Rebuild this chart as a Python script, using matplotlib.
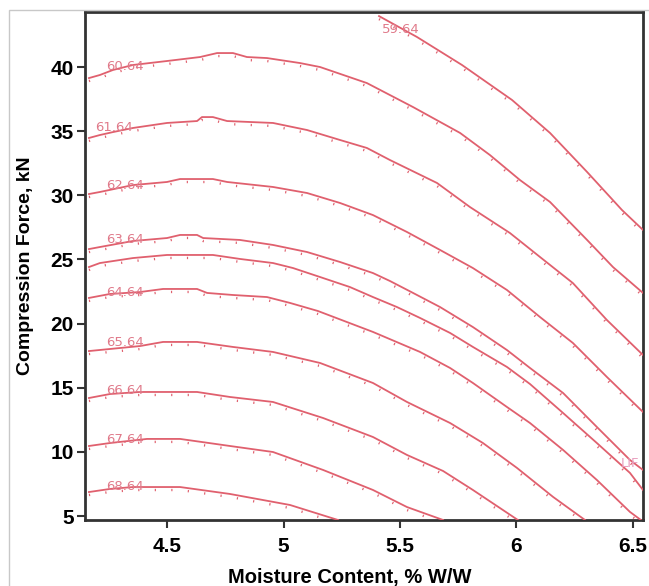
import matplotlib
matplotlib.use("Agg")
import matplotlib.pyplot as plt
import matplotlib.transforms as mtransforms
from matplotlib.patches import Rectangle

# ---- data ----
x_5964 = [5.410, 5.573, 5.766, 5.981, 6.144, 6.303, 6.453, 6.543]
y_5964 = [43.97, 42.34, 40.16, 37.43, 34.86, 31.82, 28.85, 27.30]

x_6064 = [4.165, 4.212, 4.268, 4.354, 4.500, 4.642, 4.715, 4.783, 4.843, 4.929, 5.071,
          5.157, 5.358, 5.556, 5.758, 5.886, 6.015, 6.144, 6.303, 6.414, 6.543]
y_6064 = [39.14, 39.38, 39.77, 40.16, 40.47, 40.78, 41.09, 41.09, 40.78, 40.70, 40.31,
          40.00, 38.75, 36.88, 34.86, 33.14, 31.19, 29.48, 26.52, 24.41, 22.39]

x_6164 = [4.165, 4.212, 4.268, 4.354, 4.500, 4.629, 4.650, 4.697, 4.758, 4.955, 5.101,
          5.243, 5.358, 5.457, 5.659, 5.800, 5.972, 6.101, 6.242, 6.388, 6.543]
y_6164 = [34.47, 34.70, 34.93, 35.25, 35.64, 35.79, 36.10, 36.10, 35.79, 35.64, 35.09,
          34.31, 33.69, 32.75, 30.96, 29.09, 27.06, 25.19, 23.16, 20.28, 17.55]

x_6264 = [4.165, 4.212, 4.354, 4.500, 4.556, 4.697, 4.758, 4.955, 5.101, 5.243, 5.384,
          5.530, 5.672, 5.813, 5.959, 6.101, 6.242, 6.388, 6.543]
y_6264 = [30.10, 30.26, 30.80, 31.04, 31.27, 31.27, 31.04, 30.65, 30.18, 29.40, 28.46,
          27.14, 25.74, 24.33, 22.62, 20.51, 18.49, 15.84, 13.11]

x_6364 = [4.165, 4.212, 4.354, 4.500, 4.556, 4.629, 4.655, 4.813, 4.955, 5.101, 5.243,
          5.384, 5.457, 5.556, 5.672, 5.813, 5.959, 6.058, 6.200, 6.345, 6.487, 6.543]
y_6364 = [25.81, 25.97, 26.44, 26.67, 26.91, 26.91, 26.67, 26.52, 26.13, 25.58, 24.80,
          23.94, 23.32, 22.39, 21.29, 19.73, 17.94, 16.54, 14.59, 11.94, 9.37, 8.59]

x_lif = [4.165, 4.212, 4.354, 4.500, 4.697, 4.813, 4.955, 5.041, 5.157, 5.285, 5.384,
         5.487, 5.586, 5.715, 5.813, 5.959, 6.058, 6.200, 6.345, 6.487, 6.543]
y_lif = [24.41, 24.72, 25.11, 25.35, 25.35, 25.04, 24.72, 24.33, 23.63, 22.85, 22.07,
         21.29, 20.44, 19.27, 18.18, 16.62, 15.29, 13.03, 10.69, 8.36, 7.03]

x_6464 = [4.165, 4.255, 4.384, 4.483, 4.629, 4.672, 4.783, 4.929, 5.028, 5.148, 5.384,
          5.586, 5.715, 5.813, 5.959, 6.058, 6.200, 6.345, 6.487, 6.534]
y_6464 = [22.00, 22.31, 22.46, 22.70, 22.70, 22.39, 22.23, 22.07, 21.61, 20.98, 19.35,
          17.79, 16.54, 15.37, 13.50, 12.25, 10.15, 7.81, 5.32, 4.69]

x_6564 = [4.165, 4.384, 4.483, 4.629, 4.783, 4.955, 5.157, 5.384, 5.530, 5.715, 5.856,
          6.002, 6.157, 6.294]
y_6564 = [17.86, 18.25, 18.57, 18.57, 18.18, 17.79, 16.93, 15.37, 13.89, 12.25, 10.69,
          8.75, 6.49, 4.69]

x_6664 = [4.165, 4.255, 4.384, 4.629, 4.770, 4.955, 5.170, 5.384, 5.530, 5.685, 5.813, 6.006]
y_6664 = [14.20, 14.51, 14.67, 14.67, 14.28, 13.89, 12.64, 11.16, 9.76, 8.51, 7.03, 4.69]

x_6764 = [4.165, 4.255, 4.414, 4.556, 4.770, 4.955, 5.170, 5.384, 5.530, 5.685]
y_6764 = [10.46, 10.69, 11.01, 11.01, 10.46, 9.99, 8.59, 7.03, 5.70, 4.69]

x_6864 = [4.165, 4.255, 4.354, 4.556, 4.770, 5.028, 5.234]
y_6864 = [6.87, 7.11, 7.26, 7.26, 6.72, 5.86, 4.69]

curve_x = [x_5964, x_6064, x_6164, x_6264, x_6364, x_lif, x_6464, x_6564, x_6664, x_6764, x_6864]
curve_y = [y_5964, y_6064, y_6164, y_6264, y_6364, y_lif, y_6464, y_6564, y_6664, y_6764, y_6864]

label_text = ["59.64", "60.64", "61.64", "62.64", "63.64", "64.64", "65.64", "66.64",
              "67.64", "68.64", "LIF"]
label_x = [5.504, 4.320, 4.273, 4.320, 4.320, 4.320, 4.320, 4.320, 4.320, 4.320, 6.487]
label_y = [42.96, 40.08, 35.25, 30.80, 26.59, 22.46, 18.49, 14.75, 11.00, 7.34, 9.13]

x_ticks = [4.5, 5, 5.5, 6, 6.5]
x_tick_labels = ["4.5", "5", "5.5", "6", "6.5"]
y_ticks = [5, 10, 15, 20, 25, 30, 35, 40]
y_tick_labels = ["5", "10", "15", "20", "25", "30", "35", "40"]

# ---- figure ----
plt.rcParams['font.family'] = ['Liberation Sans', 'DejaVu Sans']
fig = plt.figure(figsize=(6.49, 5.86), dpi=100)
fig.patch.set_facecolor('white')
fig.patches.append(Rectangle((9 / 649, -0.1), 1.2, 1.1 - 10 / 586,
                             transform=fig.transFigure, fill=False,
                             edgecolor='#c8c8c8', linewidth=1.0))

ax = fig.add_axes([85 / 649, 1 - 520 / 586, (643 - 85) / 649, (520 - 12) / 586])
ax.set_xlim(4.148, 6.543)
ax.set_ylim(4.69, 44.29)

line_color = '#e0606e'
dot_offset = mtransforms.offset_copy(ax.transData, fig=fig, x=0, y=-3, units='dots')
for cx, cy in zip(curve_x, curve_y):
    ax.plot(cx, cy, color=line_color, lw=1.3, solid_joinstyle='round', zorder=3)
    ax.plot(cx, cy, color='#e0606e', lw=1.7, linestyle=(0, (0.5, 6.5)),
            transform=dot_offset, zorder=2)

for t, lx, ly in zip(label_text, label_x, label_y):
    col = '#e8a0c0' if t == "LIF" else '#e07a8a'
    ax.text(lx, ly, t, color=col, fontsize=9.5, ha='center', va='center',
            family='DejaVu Sans', zorder=4)

ax.set_xticks(x_ticks)
ax.set_xticklabels(x_tick_labels)
ax.set_yticks(y_ticks)
ax.set_yticklabels(y_tick_labels)
ax.tick_params(axis='both', direction='out', length=6, width=1.5, color='#333333',
               labelsize=15)
ax.tick_params(axis='x', pad=6)
ax.tick_params(axis='y', pad=2)
for lab in ax.get_xticklabels() + ax.get_yticklabels():
    lab.set_fontweight('bold')
for s in ax.spines.values():
    s.set_linewidth(2.0)
    s.set_color('#333333')

ax.set_xlabel("Moisture Content, % W/W", fontsize=14.5, fontweight='bold')
ax.xaxis.set_label_coords(0.475, -0.095)
ax.set_ylabel("Compression Force, kN", fontsize=14, fontweight='bold', labelpad=12)

fig.savefig("out.png", dpi=100)
